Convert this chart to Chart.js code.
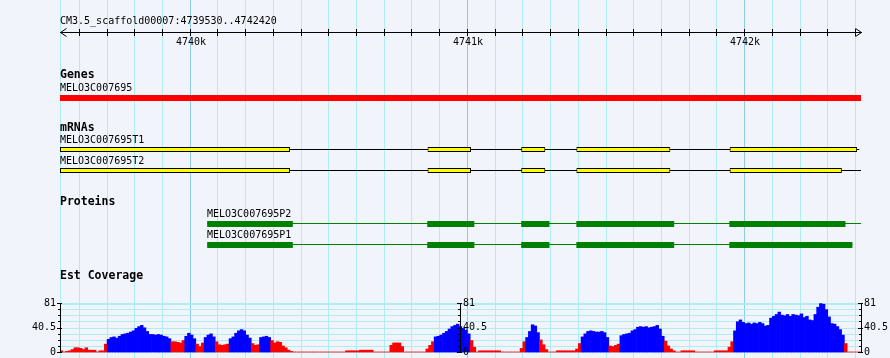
<!DOCTYPE html>
<html><head><meta charset="utf-8">
<script src="https://cdn.jsdelivr.net/npm/chart.js@4/dist/chart.umd.min.js"></script>
<style>html,body{margin:0;padding:0;background:#f1f4fa;}canvas{display:block}</style>
</head><body>
<canvas id="c" width="890" height="358"></canvas>
<script>
// ---------------- data ----------------
const regionName = "CM3.5_scaffold00007";
const regionStart = 4739530;
const regionEnd = 4742420;
const rulerMinorStep = 100;
const rulerMajorStep = 1000;

const trackTitles = ["Genes", "mRNAs", "Proteins", "Est Coverage"];

const geneNames = ["MELO3C007695"];
const geneSpans = [[4739530, 4742420]];

const mrnaNames = ["MELO3C007695T1", "MELO3C007695T2"];
const mrnaSpans = [[4739530, 4742414], [4739530, 4742420]];
const mrnaT1Exons = [[4739530, 4740360], [4740856, 4741013], [4741194, 4741281], [4741393, 4741732], [4741946, 4742406]];
const mrnaT2Exons = [[4739530, 4740360], [4740856, 4741013], [4741194, 4741281], [4741393, 4741732], [4741946, 4742351]];

const proteinNames = ["MELO3C007695P2", "MELO3C007695P1"];
const proteinSpans = [[4740061, 4742420], [4740061, 4742389]];
const proteinP2Cds = [[4740061, 4740370], [4740855, 4741025], [4741194, 4741296], [4741393, 4741746], [4741945, 4742364]];
const proteinP1Cds = [[4740061, 4740370], [4740855, 4741025], [4741194, 4741296], [4741393, 4741746], [4741945, 4742389]];

const coverageStart = 4739530;
const coverageBin = 10;
const coverageMax = 81;
const coverageMid = 40.5;
const coveragePivot = 21;
const coverageValues = [
  2,0,1,2,4,7,7,6,4,7, 3,3,3,0,2,2,13,21,24,25,
  23,26,29,30,31,33,35,39,42,44, 40,34,29,29,28,29,28,26,25,22,
  17,17,16,15,19,26,31,28,22,13, 9,15,24,28,30,25,17,12,11,12,
  13,22,25,31,35,37,35,28,23,14, 11,12,24,25,26,24,19,15,17,16,
  10,7,3,1,0,0,0,0,0,0, 0,0,0,0,0,0,0,0,0,0,
  0,0,0,2,2,2,2,2,3,3, 3,3,3,0,0,0,0,0,0,11,
  15,15,15,9,0,0,0,0,0,0, 0,0,5,11,17,25,26,28,31,34,
  38,42,44,46,42,39,36,30,19,8, 0,2,2,2,2,2,2,2,2,0,
  0,0,0,0,0,0,6,17,24,34, 45,43,32,20,12,4,0,0,0,2,
  2,2,2,2,2,2,5,14,25,30, 34,35,34,33,33,34,32,24,10,9,
  11,13,27,29,30,31,35,37,41,42, 41,42,40,41,42,44,38,26,18,10,
  5,2,0,0,2,2,2,2,2,0, 0,0,0,0,0,0,2,2,2,2,
  2,8,17,35,50,53,49,47,48,46, 48,47,49,47,43,44,56,59,62,66,
  61,60,62,59,62,61,60,63,57,59, 53,52,62,74,80,79,70,58,47,46,
  42,37,28,14,0,0,0,0,0
];

// ---------------- layout (pixels) ----------------
const L = {
  left: 60, right: 861, height: 358,
  titleY: 21, rulerY: 32, rulerLabelY: 42,
  geneTitleY: 75, geneLabelY: 88, geneRow: 98,
  mrnaTitleY: 128, mrnaLabelY: [140, 161], mrnaRow: [149.5, 170.5],
  protTitleY: 202, protLabelY: [214, 235], protRow: [224, 245],
  covTitleY: 276, covTop: 303, covBottom: 352, covGridSteps: 8
};
const C = {
  bg: '#f1f4fa', grid: '#aeeef2', gridMajor: '#8ccbe9',
  gene: '#ff0000', exon: '#ffff00', cds: '#008000',
  covHigh: '#0000ff', covLow: '#ff0000', ink: '#000000'
};
const FONT = '10px "DejaVu Sans Mono", monospace';
const FONT_B = 'bold 11.5px "DejaVu Sans Mono", monospace';

// ---------------- datasets ----------------
const covPxPerUnit = (L.covBottom - L.covTop) / coverageMax;
const covAxisMin = -(L.height - L.covBottom) / covPxPerUnit;
const covAxisMax = covAxisMin + L.height / covPxPerUnit;

const coverageData = coverageValues.map((v, i) => ({x: coverageStart + i * coverageBin + coverageBin / 2, y: v}));

function boxes(spans, row, color, thick, border) {
  return {
    type: 'bar', indexAxis: 'y', xAxisID: 'xG', yAxisID: 'yT', grouped: false, order: 1,
    data: spans.map(s => ({x: [s[0], s[1]], y: row})),
    backgroundColor: color, borderColor: C.ink, borderWidth: border ? 1 : 0,
    borderSkipped: false, barThickness: thick, inflateAmount: 0
  };
}
function connector(span, row, color) {
  return {
    type: 'line', xAxisID: 'xG', yAxisID: 'yT', order: 2,
    data: [{x: span[0], y: row}, {x: span[1], y: row}],
    borderColor: color, borderWidth: 1, pointRadius: 0, tension: 0
  };
}

const datasets = [
  boxes(geneSpans, L.geneRow, C.gene, 6, false),
  connector(mrnaSpans[0], L.mrnaRow[0], C.ink),
  boxes(mrnaT1Exons, L.mrnaRow[0], C.exon, 5, true),
  connector(mrnaSpans[1], L.mrnaRow[1], C.ink),
  boxes(mrnaT2Exons, L.mrnaRow[1], C.exon, 5, true),
  connector(proteinSpans[0], L.protRow[0] - 0.5, C.cds),
  boxes(proteinP2Cds, L.protRow[0], C.cds, 6, false),
  connector(proteinSpans[1], L.protRow[1] - 0.5, C.cds),
  boxes(proteinP1Cds, L.protRow[1], C.cds, 6, false),
  {
    type: 'bar', xAxisID: 'x', yAxisID: 'yC', grouped: false, order: 3,
    data: coverageData,
    backgroundColor: ctx => (ctx.raw && ctx.raw.y >= coveragePivot) ? C.covHigh : C.covLow,
    borderWidth: 0, barPercentage: 1, categoryPercentage: 1
  }
];

// ---------------- decorations plugin ----------------
const decor = {
  id: 'decor',
  beforeDraw(chart) {
    const g = chart.ctx;
    g.save();
    g.fillStyle = C.bg;
    g.fillRect(0, 0, chart.width, chart.height);
    g.restore();
  },
  beforeDatasetsDraw(chart) {
    const g = chart.ctx, xs = chart.scales.x, yc = chart.scales.yC;
    g.save();
    const vlines = [regionStart];
    for (let v = Math.ceil(regionStart / rulerMinorStep) * rulerMinorStep; v <= regionEnd; v += rulerMinorStep) vlines.push(v);
    vlines.forEach(v => {
      g.fillStyle = (v % rulerMajorStep === 0) ? C.gridMajor : C.grid;
      g.fillRect(Math.floor(xs.getPixelForValue(v)), 0, 1, L.height);
    });
    g.fillStyle = C.grid;
    for (let k = 0; k <= L.covGridSteps; k++) {
      const v = coverageMax * k / L.covGridSteps;
      const py = Math.round(yc.getPixelForValue(v));
      g.fillRect(L.left, py, L.right - L.left + 1, k === L.covGridSteps ? 2 : 1);
    }
    g.restore();
  },
  afterDatasetsDraw(chart) {
    const g = chart.ctx, xs = chart.scales.x, yc = chart.scales.yC;
    g.save();
    g.fillStyle = C.ink; g.strokeStyle = C.ink; g.lineWidth = 1;
    g.textBaseline = 'middle';
    g.font = FONT; g.textAlign = 'left';
    g.fillText(regionName + ':' + regionStart + '..' + regionEnd, L.left, L.titleY);
    const x0 = Math.floor(xs.getPixelForValue(regionStart)), x1 = Math.floor(xs.getPixelForValue(regionEnd));
    g.fillRect(x0, L.rulerY, x1 - x0 + 1, 1);
    g.beginPath();
    g.moveTo(x0 + 6.5, L.rulerY - 3.5); g.lineTo(x0 + 0.5, L.rulerY + 0.5); g.lineTo(x0 + 6.5, L.rulerY + 4.5);
    g.moveTo(x1 - 5.5, L.rulerY - 3.5); g.lineTo(x1 + 0.5, L.rulerY + 0.5); g.lineTo(x1 - 5.5, L.rulerY + 4.5);
    g.stroke();
    g.textAlign = 'center';
    for (let v = Math.ceil(regionStart / rulerMinorStep) * rulerMinorStep; v < regionEnd; v += rulerMinorStep) {
      const px = Math.floor(xs.getPixelForValue(v));
      g.fillRect(px, L.rulerY - 3, 1, 7);
      if (v % rulerMajorStep === 0) g.fillText((v / 1000) + 'k', px + 1, L.rulerLabelY);
    }
    g.textAlign = 'left'; g.font = FONT_B;
    [L.geneTitleY, L.mrnaTitleY, L.protTitleY, L.covTitleY].forEach((y, i) => g.fillText(trackTitles[i], L.left, y));
    g.font = FONT;
    const xg = chart.scales.xG;
    g.fillText(geneNames[0], Math.round(xg.getPixelForValue(geneSpans[0][0])), L.geneLabelY);
    mrnaNames.forEach((n, i) => g.fillText(n, Math.round(xg.getPixelForValue(mrnaSpans[i][0])), L.mrnaLabelY[i]));
    proteinNames.forEach((n, i) => g.fillText(n, Math.round(xg.getPixelForValue(proteinSpans[i][0])), L.protLabelY[i]));
    const axisXs = [regionStart, (regionStart + regionEnd) / 2, regionEnd].map(v => Math.floor(xs.getPixelForValue(v)));
    const yTop = Math.round(yc.getPixelForValue(coverageMax)), yBot = Math.round(yc.getPixelForValue(0));
    axisXs.forEach((ax, idx) => {
      g.fillRect(ax, yTop, 1, yBot - yTop + 1);
      for (let k = 0; k <= L.covGridSteps; k++) {
        const v = coverageMax * k / L.covGridSteps;
        const py = Math.round(yc.getPixelForValue(v));
        const major = (k === 0 || k === L.covGridSteps || k === L.covGridSteps / 2);
        g.fillRect(ax - (major ? 3 : 2), py, major ? 5 : 3, 1);
      }
      [[coverageMax, '81'], [coverageMid, '40.5'], [0, '0']].forEach(([v, t]) => {
        const py = yc.getPixelForValue(v);
        if (idx === 0) { g.textAlign = 'right'; g.fillText(t, ax - 4, py); }
        else { g.textAlign = 'left'; g.fillText(t, ax + 3, py); }
      });
    });
    g.restore();
  }
};

new Chart(document.getElementById('c'), {
  type: 'bar',
  data: {datasets},
  options: {
    responsive: false, animation: false, devicePixelRatio: 1, events: [],
    layout: {padding: {left: L.left, right: 890 - L.right, top: 0, bottom: 0}},
    plugins: {legend: {display: false}, tooltip: {enabled: false}},
    scales: {
      x: {type: 'linear', axis: 'x', min: regionStart, max: regionEnd, display: false, offset: false},
      xG: {type: 'linear', axis: 'x', min: regionStart, max: regionEnd, display: false, offset: false},
      yT: {type: 'linear', axis: 'y', min: 0, max: L.height, reverse: true, display: false, offset: false},
      yC: {type: 'linear', axis: 'y', min: covAxisMin, max: covAxisMax, display: false, offset: false}
    }
  },
  plugins: [decor]
});
</script>
</body></html>
